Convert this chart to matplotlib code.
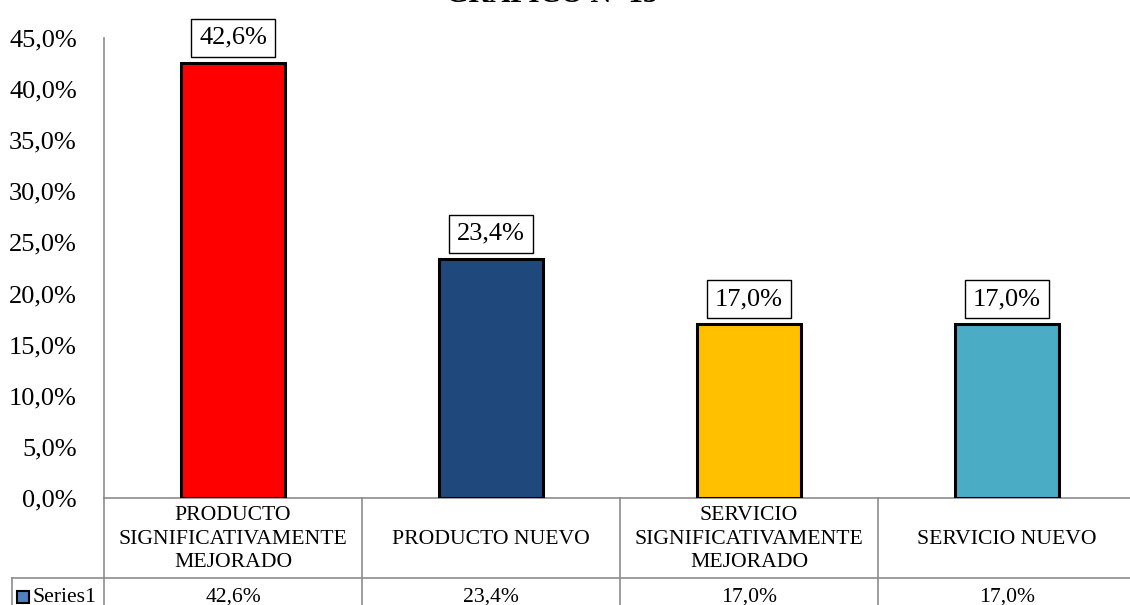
import matplotlib.pyplot as plt
from matplotlib.lines import Line2D
from matplotlib.patches import Rectangle
from matplotlib.transforms import blended_transform_factory

plt.rcParams['font.family'] = ['Liberation Serif', 'DejaVu Serif']

# ===============================
# DATA
# ===============================
categories = ['PRODUCTO\nSIGNIFICATIVAMENTE\nMEJORADO', 'PRODUCTO NUEVO',
              'SERVICIO\nSIGNIFICATIVAMENTE\nMEJORADO', 'SERVICIO NUEVO']
values = [42.6, 23.4, 17.0, 17.0]
bar_colors = ['#FF0000', '#1F497D', '#FFC000', '#4BACC6']
series_name = 'Series1'
title = 'GRÁFICO Nº 13'

W, H = 1130, 605
GRID = '#8C8C8C'


def pct(v):
    return f"{v:.1f}%".replace('.', ',')


fig = plt.figure(figsize=(W / 100, H / 100), dpi=100)
ax = fig.add_axes([104 / W, (H - 498) / H, 1032 / W, 460 / H])

x = range(len(values))
ax.bar(x, values, width=0.4, color=bar_colors, edgecolor='black', linewidth=2.2, zorder=3)

for i, v in enumerate(values):
    ax.annotate(pct(v), xy=(i, v), xytext=(0, 10), textcoords='offset points',
                ha='center', va='bottom', fontsize=19,
                bbox=dict(boxstyle='square,pad=0.3', fc='white', ec='black', lw=1))

ax.set_xlim(-0.5, len(values) - 0.5)
ax.set_ylim(0, 45)
ax.set_yticks(range(0, 46, 5))
ax.set_yticklabels([pct(t) for t in range(0, 46, 5)], fontsize=19)
ax.tick_params(axis='y', length=0, pad=19.5)
ax.set_xticks([])
for side in ['top', 'right']:
    ax.spines[side].set_visible(False)
for side in ['left', 'bottom']:
    ax.spines[side].set_color(GRID)
    ax.spines[side].set_linewidth(1.2)

# title sits mostly above the top edge
fig.text(552 / W, 1 - 2.5 / H, title, ha='center', va='baseline',
         fontsize=21, fontweight='bold')

# ===============================
# DATA TABLE UNDER THE AXIS
# ===============================
tr = blended_transform_factory(ax.transData, fig.transFigure)
y_mid = 1 - 578 / H
y_bot = 1 - 620 / H
y_top = 1 - 498 / H

for i in range(len(values) + 1):
    fig.add_artist(Line2D([i - 0.5, i - 0.5], [y_top, y_bot], transform=tr,
                          color=GRID, lw=1.2))
fig.add_artist(Line2D([12 / W, 1], [y_mid, y_mid], transform=fig.transFigure,
                      color=GRID, lw=1.2))
fig.add_artist(Line2D([12 / W, 12 / W], [y_mid, y_bot], transform=fig.transFigure,
                      color=GRID, lw=1.2))

for i, (cat, v) in enumerate(zip(categories, values)):
    fig.text(i, 1 - 539 / H, cat, transform=tr, ha='center', va='center',
             fontsize=15.6, linespacing=1.32)
    fig.text(i, 1 - 597 / H, pct(v), transform=tr, ha='center', va='center',
             fontsize=15.6)

fig.add_artist(Rectangle((17 / W, 1 - 603 / H), 12 / W, 12 / H,
                         transform=fig.transFigure, fc='#4F81BD', ec='black', lw=1.5))
fig.text(32 / W, 1 - 597 / H, series_name, ha='left', va='center', fontsize=15.6)

fig.savefig('out.png', dpi=100)
